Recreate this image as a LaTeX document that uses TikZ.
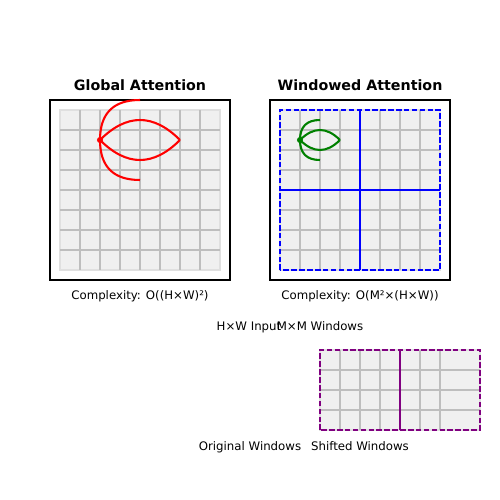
\documentclass[tikz,border=0pt]{standalone}
\usepackage{fontspec}
\setmainfont{DejaVu Sans}
\definecolor{cellfill}{RGB}{240,240,240}
\definecolor{cellrim}{RGB}{224,224,224}
\definecolor{cellline}{RGB}{190,190,190}
\definecolor{mplgreen}{RGB}{0,128,0}
\definecolor{mplpurple}{RGB}{128,0,128}
\begin{document}
\begin{tikzpicture}[x=0.508cm, y=0.508cm,
  cellbox/.style={fill=cellfill, draw=cellrim, line width=1pt},
  gridline/.style={draw=cellline, line width=1.5pt},
  framebox/.style={draw=black, line width=2pt},
  headline/.style={font=\fontsize{10.3}{12}\selectfont\bfseries, anchor=base},
  note/.style={font=\fontsize{8.5}{10}\selectfont, anchor=base},
  link/.style={line width=1.5pt},
  querydot/.style={circle, fill, inner sep=0pt, minimum size=4.4pt},
  winline/.style={line width=1.5pt, dash pattern=on 4pt off 1.7pt}]
  \useasboundingbox (0,0) rectangle (25,25);
  % global attention
  \draw [framebox] (2.5,11) rectangle (11.5,20);
  \draw [cellbox] (3,11.5) rectangle (11,19.5);
  \foreach \i in {4,...,10} \draw [gridline] (\i,11.5) -- (\i,19.5);
  \foreach \j in {12.5,13.5,...,18.5} \draw [gridline] (3,\j) -- (11,\j);
  \node [querydot, red] (gq) at (5,18) {};
  \coordinate (gtop) at (7,20);
  \coordinate (gbot) at (7,16);
  \coordinate (gfar) at (9,18);
  \draw [link, red] (gq.center) .. controls (5,19.333) and (5.667,20) .. (gtop);
  \draw [link, red] (gq.center) .. controls (5,16.667) and (5.667,16) .. (gbot);
  \draw [link, red] (gq.center) .. controls (6.333,19.333) and (7.667,19.333) .. (gfar);
  \draw [link, red] (gq.center) .. controls (6.333,16.667) and (7.667,16.667) .. (gfar);
  \node [headline] (gtitle) at (7,20.47) {Global Attention};
  \node [note] (gcost) at (7,10) {Complexity: O((H×W)²)};
  % windowed attention
  \draw [framebox] (13.5,11) rectangle (22.5,20);
  \draw [cellbox] (14,11.5) rectangle (22,19.5);
  \foreach \i in {15,...,21} \draw [gridline] (\i,11.5) -- (\i,19.5);
  \foreach \j in {12.5,13.5,...,18.5} \draw [gridline] (14,\j) -- (22,\j);
  \draw [winline, blue] (14,11.5) rectangle (22,19.5);
  \draw [link, blue] (18,11.5) -- (18,19.5);
  \draw [link, blue] (14,15.5) -- (22,15.5);
  \node [querydot, mplgreen] (wq) at (15,18) {};
  \coordinate (wtop) at (16,19);
  \coordinate (wbot) at (16,17);
  \coordinate (wfar) at (17,18);
  \draw [link, mplgreen] (wq.center) .. controls (15,18.667) and (15.333,19) .. (wtop);
  \draw [link, mplgreen] (wq.center) .. controls (15,17.333) and (15.333,17) .. (wbot);
  \draw [link, mplgreen] (wq.center) .. controls (15.667,18.667) and (16.333,18.667) .. (wfar);
  \draw [link, mplgreen] (wq.center) .. controls (15.667,17.333) and (16.333,17.333) .. (wfar);
  \node [headline] (wtitle) at (18,20.47) {Windowed Attention};
  \node [note] (wcost) at (18,10) {Complexity: O(M²×(H×W))};
  % labels
  \node [note] (input) at (12.45,8.5) {H×W Input};
  \node [note] (mwin) at (16,8.5) {M×M Windows};
  % shifted windows
  \draw [cellbox] (16,3.5) rectangle (24,7.5);
  \foreach \i in {17,...,22} \draw [gridline] (\i,3.5) -- (\i,7.5);
  \foreach \j in {4.5,5.5,6.5} \draw [gridline] (16,\j) -- (24,\j);
  \draw [winline, mplpurple] (16,3.5) rectangle (24,7.5);
  \draw [link, mplpurple] (20,3.5) -- (20,7.5);
  \node [note] (orig) at (12.5,2.5) {Original Windows};
  \node [note] (shift) at (18,2.5) {Shifted Windows};
\end{tikzpicture}
\end{document}
